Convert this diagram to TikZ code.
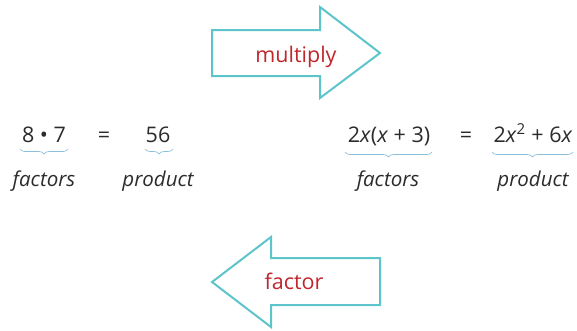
\documentclass[tikz,border=0pt]{standalone}
\usepackage{fontspec}
\setmainfont{Open Sans}
\usetikzlibrary{decorations.pathreplacing}
\definecolor{arrowc}{HTML}{5EC4CB}
\definecolor{labelred}{HTML}{C0272D}
\definecolor{bracec}{HTML}{8DBFDD}
\definecolor{textc}{HTML}{2B2B2B}
\begin{document}
\begin{tikzpicture}[x=1pt,y=-1pt,
  txt/.style={font=\fontsize{21.5}{25}\selectfont, text=textc, anchor=base, inner sep=0pt},
  itx/.style={font=\fontsize{20.5}{24}\selectfont\itshape, text=textc, anchor=base, inner sep=0pt},
  lbl/.style={font=\fontsize{21.5}{25}\selectfont, text=labelred, anchor=base, inner sep=0pt},
  bigarrow/.style={draw=arrowc, line width=2pt, line join=miter, fill=white},
  brc/.style={draw=bracec, line width=0.7pt, decorate, decoration={brace, mirror, amplitude=5pt}}]
\useasboundingbox (0,0) rectangle (577,330);
% multiply arrow
\draw[bigarrow] (212,30) -- (320,30) -- (320,7) -- (380,53) -- (320,98) -- (320,76) -- (212,76) -- cycle;
\node[lbl] (mult) at (296,62) {multiply};
% factor arrow
\draw[bigarrow] (380,258) -- (271,258) -- (271,237) -- (212,282) -- (271,327) -- (271,305) -- (380,305) -- cycle;
\node[lbl] (fact) at (294,289) {factor};
% left expression
\node[txt] (e1) at (44,142) {8 • 7};
\node[txt] (eq1) at (104,142) {=};
\node[txt] (p1) at (158,142) {56};
\coordinate (b1l) at (20,149);
\coordinate (b1r) at (68,149);
\coordinate (b2l) at (145,149);
\coordinate (b2r) at (173,149);
\draw[brc] (b1l) -- (b1r);
\draw[brc] (b2l) -- (b2r);
\node[itx] (f1) at (44,186) {factors};
\node[itx] (pr1) at (158,186) {product};
% right expression
\node[txt] (e2) at (389,142) {2\textit{x}(\textit{x} + 3)};
\node[txt] (eq2) at (466,142) {=};
\node[txt] (p2) at (533,142) {2\textit{x}\textsuperscript{2} + 6\textit{x}};
\coordinate (b3l) at (345,152);
\coordinate (b3r) at (432,152);
\coordinate (b4l) at (492,152);
\coordinate (b4r) at (573,152);
\draw[brc] (b3l) -- (b3r);
\draw[brc] (b4l) -- (b4r);
\node[itx] (f2) at (388,186) {factors};
\node[itx] (pr2) at (533,186) {product};
\end{tikzpicture}
\end{document}
